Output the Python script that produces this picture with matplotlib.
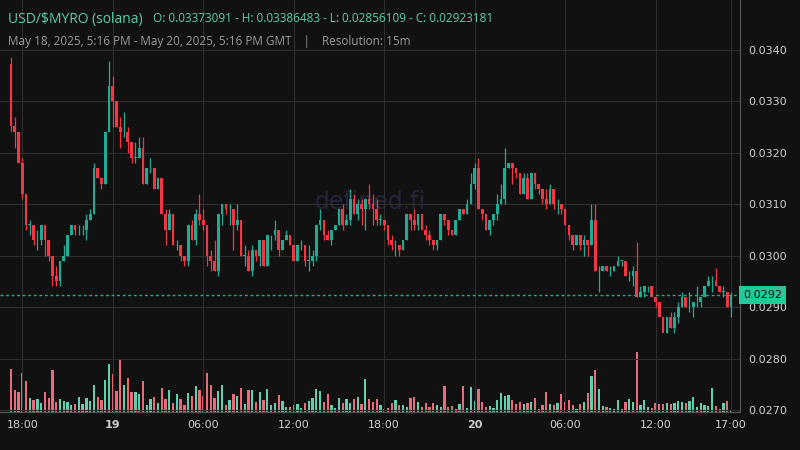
import matplotlib
matplotlib.use("Agg")
import matplotlib.pyplot as plt
import numpy as np

first_open = 0.03373091
closes = [.03252,.0324,.0318,.0312,.0306,.0306,.0303,.0303,.0306,.0303,
.0300,.0296,.0295,.0299,.0300,.0304,.0306,.0305,.0305,.0305,
.0307,.0308,.0317,.0315,.0314,.0324,.0333,.0330,.0325,.0324,
.0324,.0322,.0319,.0319,.0321,.0314,.0317,.0317,.0313,.0315,
.0308,.0305,.0308,.0302,.0302,.0300,.0299,.0306,.0303,.0308,
.0307,.0306,.0300,.0299,.0297,.0308,.0310,.0309,.0309,.0306,
.0307,.0300,.0300,.0297,.0301,.0300,.0303,.0298,.0304,.0304,
.0305,.0301,.0303,.0304,.0302,.0299,.0302,.0302,.0299,.0299,
.0300,.0306,.0307,.0304,.0303,.0305,.0306,.0309,.0306,.0307,
.0311,.0308,.0310,.0309,.0311,.0310,.0309,.0307,.0307,.0306,
.0303,.0302,.0302,.0301,.0303,.0308,.0307,.0306,.0308,.0305,
.0304,.0303,.0302,.0303,.0308,.0307,.0305,.0304,.0307,.0309,
.0308,.0310,.0314,.0317,.0309,.0308,.0305,.0307,.0308,.0310,
.0311,.0317,.0318,.0317,.0316,.0312,.0315,.0311,.0316,.0314,
.0313,.0311,.0310,.0313,.0310,.0310,.0309,.0306,.0304,.0302,
.0304,.0302,.0303,.0302,.0307,.0297,.0297,.0298,.0297,.0297,
.0298,.0299,.0299,.0296,.0296,.0297,.0292,.0293,.0294,.0294,
.0292,.0291,.0288,.0285,.0288,.0286,.0288,.0290,.0292,.0290,
.0290,.0291,.0291,.0292,.0294,.0295,.0295,.0294,.0293,.0293,
.0290,.02923181]
highs = [.03386483,.0327,.0324,.0319,.0312,.0307,.0306,.0305,.0306,.0306,
.0303,.0300,.0298,.0299,.0302,.0304,.0306,.0306,.0306,.0306,
.0308,.0309,.0318,.0317,.0315,.0324,.03379,.0335,.0330,.0327,
.0328,.0325,.0322,.0322,.0323,.0323,.0317,.0319,.0317,.0315,
.0315,.0309,.0309,.0308,.0303,.0302,.0300,.0306,.0307,.0309,
.0312,.0309,.0306,.0301,.0303,.0308,.0310,.0310,.0310,.0309,
.0310,.0307,.0302,.0301,.0302,.0301,.0303,.0303,.0304,.0304,
.0307,.0305,.0303,.0305,.0304,.0302,.0302,.0303,.0302,.0302,
.0301,.0306,.0309,.0307,.0305,.0305,.0306,.0309,.0310,.0308,
.0313,.0312,.0311,.0311,.0311,.0314,.0312,.0311,.0308,.0307,
.0306,.0304,.0303,.0302,.0303,.0308,.0308,.0309,.0308,.0308,
.0306,.0305,.0303,.0303,.0308,.0308,.0307,.0305,.0307,.0309,
.0309,.0311,.0316,.0318,.0319,.0309,.0308,.0307,.0308,.0312,
.0314,.0321,.0318,.0318,.0317,.0316,.0316,.0316,.0316,.0316,
.0314,.0313,.0313,.0314,.0313,.0311,.0310,.0309,.0306,.0304,
.0304,.0304,.0304,.0303,.0310,.0310,.0298,.0298,.0298,.0298,
.0298,.0300,.0299,.0299,.0297,.0298,.03027,.0294,.0294,.0294,
.0294,.0292,.0291,.0288,.0288,.0289,.0289,.0291,.0293,.0292,
.0293,.0291,.0294,.0292,.0294,.0296,.0296,.02975,.0294,.0294,
.0293,.0293]
lows = [.03240,.0321,.0318,.0311,.0305,.0304,.0302,.0301,.0302,.0300,
.0299,.0294,.0294,.0294,.0299,.0300,.0304,.0304,.0304,.0304,
.0303,.0307,.0308,.0315,.0313,.0314,.0324,.0325,.0325,.0321,
.0323,.0320,.0318,.0318,.0319,.0314,.0314,.0316,.0313,.0313,
.0308,.0302,.0305,.0302,.0301,.0299,.0298,.0298,.0303,.0302,
.0306,.0305,.0298,.0297,.0297,.0296,.0306,.0308,.0306,.0301,
.0305,.0300,.0298,.0297,.0296,.0299,.0298,.0298,.0298,.0301,
.0303,.0300,.0301,.0303,.0302,.0299,.0299,.0301,.0298,.0297,
.0298,.0299,.0305,.0303,.0303,.0302,.0305,.0306,.0305,.0306,
.0306,.0308,.0307,.0306,.0305,.0309,.0306,.0306,.0306,.0305,
.0302,.0301,.0300,.0300,.0301,.0303,.0305,.0305,.0305,.0305,
.0303,.0302,.0301,.0301,.0303,.0306,.0304,.0304,.0304,.0307,
.0308,.0308,.0310,.0313,.0309,.0307,.0305,.0304,.0306,.0307,
.0310,.0310,.0317,.0314,.0315,.0312,.0312,.0311,.0311,.0313,
.0312,.0310,.0309,.0310,.0309,.0308,.0308,.0306,.0303,.0301,
.0302,.0301,.0300,.0300,.0302,.0297,.0293,.0297,.0297,.0296,
.0297,.0298,.0298,.0296,.0295,.0294,.0292,.0292,.0292,.0293,
.0292,.0290,.0288,.02856109,.0285,.0286,.0285,.0287,.0290,.0290,
.0289,.0288,.0290,.0290,.0292,.0294,.0293,.0294,.0293,.0292,
.0290,.0288]
volumes = [130,65,60,116,92,42,36,40,26,60,42,126,30,38,32,30,20,24,45,24,
42,32,80,45,36,95,143,113,62,160,80,101,60,60,55,92,20,38,46,26,
72,38,65,26,55,38,20,56,48,77,65,48,116,80,42,62,80,20,35,53,
47,72,25,65,65,30,60,36,68,20,26,50,32,15,15,22,25,12,28,33,
41,68,62,30,53,22,13,41,26,38,28,40,45,25,98,38,30,40,
20,8,12,28,35,20,20,15,42,45,30,15,27,15,27,20,15,78,15,18,
8,23,77,12,75,32,70,30,15,18,12,35,58,47,50,35,25,30,23,26,
30,42,8,20,60,23,20,27,53,30,35,20,10,23,30,57,107,125,70,18,
15,12,8,35,8,30,38,30,180,20,35,15,12,26,23,23,26,23,28,33,
30,28,33,45,15,27,20,18,72,17,8,26,32,3]
tick_pos = [3, 27, 51, 75, 99, 123, 147, 171, 191]
tick_labels = ["18:00", "19", "06:00", "12:00", "18:00", "20", "06:00", "12:00", "17:00"]
price_ticks = [0.0270, 0.0280, 0.0290, 0.0300, 0.0310, 0.0320, 0.0330, 0.0340]
last_price = 0.02923181

opens = [first_open] + closes[:-1]
n = len(closes)
x = np.arange(n)
BG = "#111111"
GREEN = "#22ab94"
RED = "#f23645"
VGREEN = "#5fd1b1"
VRED = "#ea6b7c"

fig = plt.figure(figsize=(8, 4.5), dpi=100, facecolor=BG)
ax = fig.add_axes([0, 38/450, 740/800, 412/450])
ax.set_facecolor(BG)
axv = ax.twinx()
axv.set_zorder(0); ax.set_zorder(1); ax.patch.set_visible(False)
axv.set_facecolor(BG)

up = [c >= o for o, c in zip(opens, closes)]
axv.bar(x, volumes, width=0.6, color=[VGREEN if u else VRED for u in up], zorder=2)
axv.set_ylim(0, 180 * 412 / 60)
axv.set_yticks([])

for i in range(n):
    col = GREEN if up[i] else RED
    ax.vlines(x[i], lows[i], highs[i], color=col, lw=0.9, zorder=3)
    lo, hi = sorted([opens[i], closes[i]])
    ax.bar(x[i], max(hi - lo, 0.000008), bottom=lo, width=0.72, color=col, zorder=3)

ax.set_xlim(-2.92, 193.4)
ax.set_ylim(0.02696, 0.03497)
ax.set_xticks(tick_pos)
ax.set_xticklabels(tick_labels)
for lbl, t in zip(ax.get_xticklabels(), tick_labels):
    if t in ("19", "20"):
        lbl.set_fontweight("bold")
ax.set_yticks(price_ticks)
ax.set_yticklabels([f"{p:.4f}" for p in price_ticks])
ax.yaxis.tick_right()
ax.tick_params(axis="both", length=0, colors="#cfcfcf", labelsize=8)
ax.tick_params(axis="y", pad=6)
ax.tick_params(axis="x", pad=6)
ax.grid(True, color="#2e2e2e", lw=0.8)
for s in ["top", "left"]:
    ax.spines[s].set_visible(False); axv.spines[s].set_visible(False)
for s in ["right", "bottom"]:
    ax.spines[s].set_color("#555555"); axv.spines[s].set_color("#555555")

ax.axhline(last_price, color=GREEN, lw=1, ls=(0, (2, 2)), zorder=4)
ax.text(1.004, last_price, f"{last_price:.4f}", transform=ax.get_yaxis_transform(),
        va="center", ha="left", fontsize=8, color="#111111", zorder=6,
        bbox=dict(boxstyle="square,pad=0.35", fc="#26c89a", ec="none"), clip_on=False)

ax.text(0.5, 0.51, "defined.fi", transform=ax.transAxes, fontsize=17, color="#24243a",
        ha="center", va="center", zorder=0.5)

fig.text(8/800, 1 - 19/450, "USD/$MYRO (solana)", color="#5fcfa8", fontsize=10, va="center", fontfamily="Open Sans")
fig.text(153/800, 1 - 19/450, "O: 0.03373091 - H: 0.03386483 - L: 0.02856109 - C: 0.02923181",
         color="#5fcfa8", fontsize=8.5, va="center", fontfamily="Open Sans")
fig.text(8/800, 1 - 41/450, "May 18, 2025, 5:16 PM - May 20, 2025, 5:16 PM GMT    |    Resolution: 15m",
         color="#9a9a9a", fontsize=8.5, va="center", fontfamily="Open Sans")

fig.savefig("out.png", dpi=100, facecolor=BG)
